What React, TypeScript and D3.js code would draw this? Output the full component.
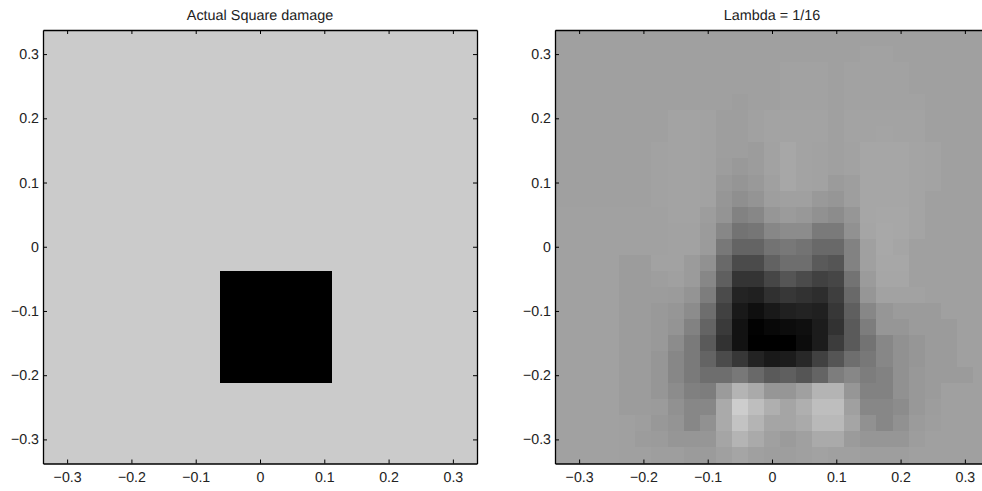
import React, { useRef, useEffect } from 'react';
import * as d3 from 'd3';

const tickValues = [-0.3, -0.2, -0.1, 0, 0.1, 0.2, 0.3];
const extent = 0.3375;
const cellSize = 0.025;

// actual damage: one dark square on a flat plate
const plateGrey = 203;
const squareGrey = 0;
const squareX = [-0.0625, 0.1125];
const squareY = [-0.2125, -0.0375];

// reconstruction, grey level per cell, top row first
const row00 = [160,160,160,160,160,160,160,160,160,160,160,160,160,160,160,160,160,160,160,160,160,160,160,160,160,160,160];
const row01 = [160,160,160,160,160,160,160,160,160,160,160,160,160,160,160,160,160,160,160,162,162,160,160,160,160,160,160];
const row02 = [160,160,160,160,160,160,160,160,160,160,160,160,160,160,162,162,162,160,162,162,162,162,160,160,160,160,160];
const row03 = [160,160,160,160,160,160,160,160,160,160,160,160,160,160,162,162,162,160,162,162,162,162,160,160,160,160,160];
const row04 = [160,160,160,160,160,160,160,160,160,160,160,158,160,160,162,162,162,160,162,162,162,162,162,160,160,160,160];
const row05 = [160,160,160,160,160,160,160,163,163,162,158,158,161,163,163,163,163,160,163,163,163,163,163,160,160,160,160];
const row06 = [160,160,160,160,160,160,160,163,163,162,158,158,161,163,163,163,163,160,163,163,164,163,163,160,160,160,160];
const row07 = [160,160,160,160,160,160,162,163,163,162,158,158,156,162,167,163,162,160,162,166,166,166,164,163,160,160,160];
const row08 = [160,160,160,160,160,160,162,163,163,162,157,153,156,162,167,163,162,160,162,166,166,166,164,163,160,160,160];
const row09 = [160,160,160,160,160,160,162,163,163,162,153,149,153,160,167,163,162,155,158,166,166,166,164,163,160,160,160];
const row10 = [160,160,160,160,160,160,162,163,163,162,150,143,148,158,160,160,153,150,158,166,166,166,164,160,160,160,160];
const row11 = [161,161,161,161,161,161,161,163,163,157,148,130,135,150,155,152,145,140,150,166,167,167,164,160,160,160,160];
const row12 = [161,161,161,161,161,161,161,162,162,155,135,115,118,135,140,140,122,122,145,165,168,167,164,160,160,160,160];
const row13 = [161,161,161,161,161,161,161,162,162,155,120,100,100,115,120,115,105,105,130,160,168,165,160,160,160,160,160];
const row14 = [161,161,161,161,156,156,162,162,155,145,105,75,75,98,110,110,90,85,130,160,167,167,160,160,160,160,160];
const row15 = [161,161,161,161,156,156,158,160,155,135,95,52,52,70,85,75,65,70,115,155,166,166,160,160,160,160,160];
const row16 = [161,161,161,161,156,156,156,155,148,125,75,35,32,48,55,50,45,62,105,150,162,162,162,160,160,160,160];
const row17 = [161,161,161,161,156,156,153,150,140,110,65,25,15,25,32,35,32,55,95,135,150,155,155,155,160,160,160];
const row18 = [161,161,161,161,156,156,153,148,130,100,58,18,2,8,12,15,28,50,90,125,150,150,155,155,155,160,160];
const row19 = [161,161,161,161,156,156,153,140,122,90,50,18,0,0,0,12,28,60,90,115,135,145,150,155,155,160,160];
const row20 = [161,161,161,161,156,156,150,135,122,100,75,55,35,25,28,40,65,85,110,120,135,145,150,155,155,160,160];
const row21 = [161,161,161,161,156,156,150,135,122,110,110,120,105,90,95,85,100,125,135,125,130,145,152,155,155,155,160];
const row22 = [161,161,161,161,156,156,150,140,128,125,155,180,170,150,150,160,180,180,150,130,130,145,152,155,160,160,160];
const row23 = [161,161,161,161,156,156,155,145,135,135,170,205,190,175,165,175,190,190,160,135,135,140,152,157,160,160,160];
const row24 = [161,161,161,161,160,158,152,148,135,145,170,195,180,165,165,170,185,185,165,145,135,145,155,158,160,160,160];
const row25 = [161,161,161,161,160,156,155,150,150,150,165,180,170,160,155,160,170,170,155,150,150,150,157,160,160,160,160];
const row26 = [161,161,161,161,160,160,158,158,155,155,160,165,160,158,158,160,162,160,160,158,158,158,160,160,160,160,160];

const lambdaRows = [
  row00, row01, row02, row03, row04, row05, row06, row07, row08,
  row09, row10, row11, row12, row13, row14, row15, row16, row17,
  row18, row19, row20, row21, row22, row23, row24, row25, row26,
];

const fmt = (v: number) => (v === 0 ? '0' : d3.format('.1f')(v).replace('-', '\u2212'));

const App = () => {
  const svgRef = useRef<SVGSVGElement>(null);

  useEffect(() => {
    const svg = d3.select(svgRef.current);
    svg.selectAll('*').remove();

    const grey = d3.scaleLinear<string>().domain([0, 255]).range(['#000', '#fff']);
    const top = 30;
    const bottom = 463.5;
    const panelWidth = 434;

    const drawPanel = (left: number, title: string, fill: (g: any, x: any, y: any) => void) => {
      const x = d3.scaleLinear().domain([-extent, extent]).range([left, left + panelWidth]);
      const y = d3.scaleLinear().domain([-extent, extent]).range([bottom, top]);
      const g = svg.append('g');

      fill(g.append('g').attr('shape-rendering', 'crispEdges'), x, y);

      // axes: ticks point inward, on all four sides
      const axes = [
        d3.axisBottom(x).tickValues(tickValues).tickFormat(fmt as any).tickSizeInner(-4).tickSizeOuter(0).tickPadding(8),
        d3.axisLeft(y).tickValues(tickValues).tickFormat(fmt as any).tickSizeInner(-4).tickSizeOuter(0).tickPadding(4),
        d3.axisTop(x).tickValues(tickValues).tickFormat(() => '').tickSizeInner(-4).tickSizeOuter(0),
        d3.axisRight(y).tickValues(tickValues).tickFormat(() => '').tickSizeInner(-4).tickSizeOuter(0),
      ];
      const offsets = [`translate(0,${bottom})`, `translate(${left},0)`, `translate(0,${top})`, `translate(${left + panelWidth},0)`];
      axes.forEach((axis, i) => {
        const a = g.append('g').attr('transform', offsets[i]).call(axis as any);
        a.selectAll('path,line').attr('stroke', '#000').attr('stroke-width', 1);
        a.select('path').attr('stroke-width', 1.3);
        a.selectAll('text')
          .attr('fill', '#222')
          .attr('font-size', 14.2)
          .attr('text-rendering', 'geometricPrecision')
          .attr('font-family', '"Liberation Sans", sans-serif');
      });

      g.append('text')
        .attr('x', left + panelWidth / 2)
        .attr('y', 20)
        .attr('text-anchor', 'middle')
        .attr('fill', '#222')
        .attr('font-size', 14.4)
        .attr('text-rendering', 'geometricPrecision')
        .attr('font-family', '"Liberation Sans", sans-serif')
        .text(title);
    };

    drawPanel(43, 'Actual Square damage', (g, x, y) => {
      g.append('rect')
        .attr('x', x(-extent))
        .attr('y', y(extent))
        .attr('width', x(extent) - x(-extent))
        .attr('height', y(-extent) - y(extent))
        .attr('fill', grey(plateGrey));
      g.append('rect')
        .attr('x', x(squareX[0]))
        .attr('y', y(squareY[1]))
        .attr('width', x(squareX[1]) - x(squareX[0]))
        .attr('height', y(squareY[0]) - y(squareY[1]))
        .attr('fill', grey(squareGrey));
    });

    drawPanel(555, 'Lambda = 1/16', (g, x, y) => {
      lambdaRows.forEach((row, j) => {
        row.forEach((v, i) => {
          const x0 = x(-extent + i * cellSize);
          const y0 = y(extent - j * cellSize);
          g.append('rect')
            .attr('x', x0)
            .attr('y', y0)
            .attr('width', x(-extent + (i + 1) * cellSize) - x0 + 0.5)
            .attr('height', y(extent - (j + 1) * cellSize) - y0 + 0.5)
            .attr('fill', grey(v));
        });
      });
    });
  }, []);

  return <svg ref={svgRef} width={982} height={491} style={{ position: 'absolute', left: 0, top: 0 }} />;
};

export default App;
